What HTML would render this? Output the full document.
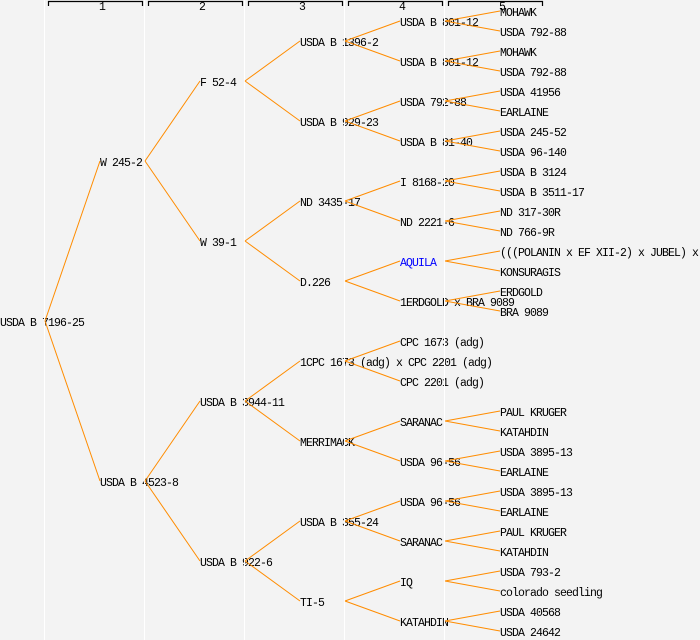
<!DOCTYPE html>
<html><head><meta charset="utf-8"><style>
html,body{margin:0;padding:0;background:#f3f3f3;}
svg{display:block}
text{font-family:"Liberation Mono","DejaVu Sans Mono",monospace;font-size:11.5px;letter-spacing:-0.9px;fill:#000;}
</style></head><body>
<svg width="700" height="640" viewBox="0 0 700 640" xmlns="http://www.w3.org/2000/svg">
<rect width="700" height="640" fill="#f3f3f3"/>
<g fill="none" stroke="#000" stroke-width="1.2">
<path d="M48.5,6V1.5H142.5V6"/><path d="M148.5,6V1.5H242.5V6"/><path d="M248.5,6V1.5H342.5V6"/><path d="M348.5,6V1.5H442.5V6"/><path d="M448.5,6V1.5H542.5V6"/>
</g>
<g style="font-size:8px;letter-spacing:0"><text x="99" y="10">1</text><text x="199" y="10">2</text><text x="299" y="10">3</text><text x="399" y="10">4</text><text x="499" y="10">5</text></g>
<g>
<text x="0" y="326">USDA B 7196-25</text>
<text x="100" y="166">W 245-2</text><text x="100" y="486">USDA B 4523-8</text>
<text x="200" y="86">F 52-4</text><text x="200" y="246">W 39-1</text><text x="200" y="406">USDA B 3944-11</text><text x="200" y="566">USDA B 922-6</text>
<text x="300" y="46">USDA B 1396-2</text><text x="300" y="126">USDA B 929-23</text><text x="300" y="206">ND 3435-17</text><text x="300" y="286">D.226</text><text x="300" y="366">1CPC 1673 (adg) x CPC 2201 (adg)</text><text x="300" y="446">MERRIMACK</text><text x="300" y="526">USDA B 355-24</text><text x="300" y="606">TI-5</text>
<text x="400" y="26">USDA B 801-12</text><text x="400" y="66">USDA B 801-12</text><text x="400" y="106">USDA 792-88</text><text x="400" y="146">USDA B 81-40</text><text x="400" y="186">I 8168-20</text><text x="400" y="226">ND 2221-6</text><text x="400" y="266" style="fill:#0000ff">AQUILA</text><text x="400" y="306">1ERDGOLD x BRA 9089</text><text x="400" y="346">CPC 1673 (adg)</text><text x="400" y="386">CPC 2201 (adg)</text><text x="400" y="426">SARANAC</text><text x="400" y="466">USDA 96-56</text><text x="400" y="506">USDA 96-56</text><text x="400" y="546">SARANAC</text><text x="400" y="586">IQ</text><text x="400" y="626">KATAHDIN</text>
<text x="500" y="16">MOHAWK</text><text x="500" y="36">USDA 792-88</text><text x="500" y="56">MOHAWK</text><text x="500" y="76">USDA 792-88</text><text x="500" y="96">USDA 41956</text><text x="500" y="116">EARLAINE</text><text x="500" y="136">USDA 245-52</text><text x="500" y="156">USDA 96-140</text><text x="500" y="176">USDA B 3124</text><text x="500" y="196">USDA B 3511-17</text><text x="500" y="216">ND 317-30R</text><text x="500" y="236">ND 766-9R</text><text x="500" y="256">(((POLANIN x EF XII-2) x JUBEL) x</text><text x="500" y="276">KONSURAGIS</text><text x="500" y="296">ERDGOLD</text><text x="500" y="316">BRA 9089</text>
<text x="500" y="416">PAUL KRUGER</text><text x="500" y="436">KATAHDIN</text><text x="500" y="456">USDA 3895-13</text><text x="500" y="476">EARLAINE</text><text x="500" y="496">USDA 3895-13</text><text x="500" y="516">EARLAINE</text><text x="500" y="536">PAUL KRUGER</text><text x="500" y="556">KATAHDIN</text><text x="500" y="576">USDA 793-2</text><text x="500" y="596">colorado seedling</text><text x="500" y="616">USDA 40568</text><text x="500" y="636">USDA 24642</text>
</g>
<g stroke="#ffffff" stroke-width="1"><line x1="44.5" y1="0" x2="44.5" y2="640"/><line x1="144.5" y1="0" x2="144.5" y2="640"/><line x1="244.5" y1="0" x2="244.5" y2="640"/><line x1="344.5" y1="0" x2="344.5" y2="640"/><line x1="444.5" y1="0" x2="444.5" y2="640"/></g>
<g fill="none" stroke="#ff8c00" stroke-width="1">
<path d="M45,321L100,161M45,321L100,481"/>
<path d="M145,161L200,81M145,161L200,241M145,481L200,401M145,481L200,561"/>
<path d="M245,81L300,41M245,81L300,121M245,241L300,201M245,241L300,281M245,401L300,361M245,401L300,441M245,561L300,521M245,561L300,601"/>
<path d="M345,41L400,21M345,41L400,61M345,121L400,101M345,121L400,141M345,201L400,181M345,201L400,221M345,281L400,261M345,281L400,301M345,361L400,341M345,361L400,381M345,441L400,421M345,441L400,461M345,521L400,501M345,521L400,541M345,601L400,581M345,601L400,621"/>
<path d="M445,21L500,11M445,21L500,31M445,61L500,51M445,61L500,71M445,101L500,91M445,101L500,111M445,141L500,131M445,141L500,151M445,181L500,171M445,181L500,191M445,221L500,211M445,221L500,231M445,261L500,251M445,261L500,271M445,301L500,291M445,301L500,311M445,421L500,411M445,421L500,431M445,461L500,451M445,461L500,471M445,501L500,491M445,501L500,511M445,541L500,531M445,541L500,551M445,581L500,571M445,581L500,591M445,621L500,611M445,621L500,631"/>
</g>
</svg>
</body></html>
